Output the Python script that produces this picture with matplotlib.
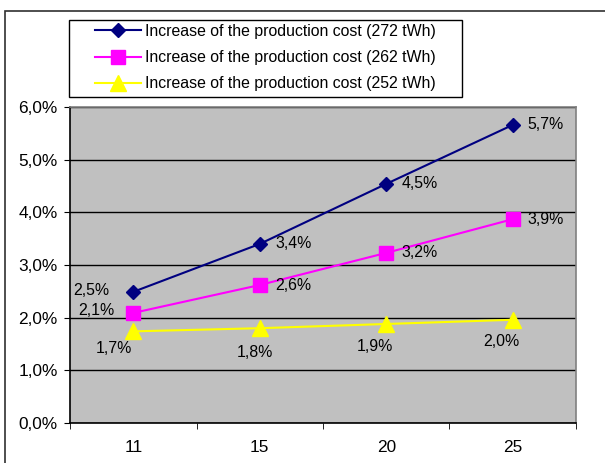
import matplotlib.pyplot as plt
from matplotlib.patches import Rectangle

plt.rcParams['font.family'] = ['Liberation Sans', 'DejaVu Sans']

categories = ['11', '15', '20', '25']
cost_272 = [2.49, 3.40, 4.54, 5.66]
cost_262 = [2.09, 2.62, 3.23, 3.87]
cost_252 = [1.74, 1.80, 1.88, 1.96]
labels_272 = ['2,5%', '3,4%', '4,5%', '5,7%']
labels_262 = ['2,1%', '2,6%', '3,2%', '3,9%']
labels_252 = ['1,7%', '1,8%', '1,9%', '2,0%']
names = ['Increase of the production cost (272 tWh)',
         'Increase of the production cost (262 tWh)',
         'Increase of the production cost (252 tWh)']

W, H = 605, 463
FS = 11.4
TFS = 12.4
PX = 0.72  # points per pixel at 100 dpi
fig = plt.figure(figsize=(W / 100, H / 100), dpi=100)
# outer chart frame (cut off on the right and bottom)
fig.patches.append(Rectangle((5 / W, -0.1), 1.2, 1 - 11 / H + 0.1, transform=fig.transFigure,
                             fill=False, edgecolor='#303030', lw=1.2))
# legend frame
fig.patches.append(Rectangle((69 / W, 1 - 97 / H), (462 - 69) / W, 77 / H, transform=fig.transFigure,
                             fill=True, facecolor='white', edgecolor='black', lw=1))

ax = fig.add_axes([70 / W, 1 - 423 / H, (576 - 70) / W, (423 - 107) / H])
ax.set_facecolor('#C0C0C0')
x = list(range(len(categories)))

l1, = ax.plot(x, cost_272, color='#000080', lw=1.5, marker='D', ms=7.5, zorder=3)
l2, = ax.plot(x, cost_262, color='#FF00FF', lw=1.5, marker='s', ms=10.5, zorder=3)
l3, = ax.plot(x, cost_252, color='#FFFF00', lw=1.5, marker='^', ms=11, zorder=3)

# label offsets in pixels
off_272 = [(-24, 1), (16, 0), (15, 0), (15, 0)]
off_262 = [(-19, 2), (16, 0), (15, 0), (15, 0)]
off_252 = [(-19, -17), (-5, -24), (-11, -23), (-11, -22)]
for i in x:
    ha = 'right' if i == 0 else 'left'
    ax.annotate(labels_272[i], (i, cost_272[i]), xytext=(off_272[i][0] * PX, off_272[i][1] * PX),
                textcoords='offset points', ha=ha, va='center', fontsize=FS)
    ax.annotate(labels_262[i], (i, cost_262[i]), xytext=(off_262[i][0] * PX, off_262[i][1] * PX),
                textcoords='offset points', ha=ha, va='center', fontsize=FS)
    ax.annotate(labels_252[i], (i, cost_252[i]), xytext=(off_252[i][0] * PX, off_252[i][1] * PX),
                textcoords='offset points', ha='center', va='center', fontsize=FS)

ax.set_xlim(-0.5, 3.5)
ax.set_ylim(0, 6)
ax.set_yticks([0, 1, 2, 3, 4, 5, 6])
ax.set_yticklabels(['0,0%', '1,0%', '2,0%', '3,0%', '4,0%', '5,0%', '6,0%'])
ax.grid(axis='y', color='black', lw=1)
ax.set_axisbelow(True)
ax.set_xticks(x)
ax.set_xticklabels(categories)
ax.set_xticks([-0.5, 0.5, 1.5, 2.5, 3.5], minor=True)
ax.tick_params(axis='x', which='major', length=0, pad=12, labelsize=TFS)
ax.tick_params(axis='x', which='minor', length=4, direction='out', color='black')
ax.tick_params(axis='y', length=4, pad=5, labelsize=TFS, color='black')

ax.spines['left'].set_color('black')
ax.spines['bottom'].set_color('black')
ax.spines['top'].set_color('#808080')
ax.spines['right'].set_color('#808080')
for s in ax.spines.values():
    s.set_linewidth(1.2)

leg = fig.legend([l1, l2, l3], names, loc='upper left', bbox_to_anchor=(95 / W, 1 - 24 / H),
                 fontsize=FS, frameon=False, handlelength=2.9, handletextpad=0.25,
                 labelspacing=0.71, borderpad=0, borderaxespad=0)

fig.savefig('out.png', dpi=100)
